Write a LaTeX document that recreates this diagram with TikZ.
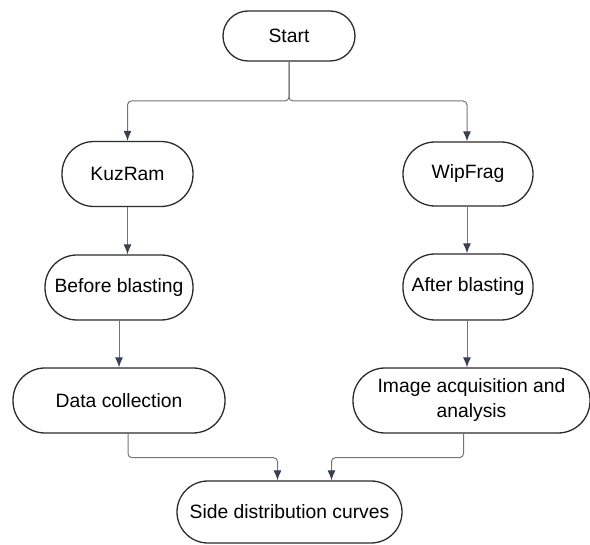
\documentclass[tikz,border=0pt]{standalone}
\usepackage{fontspec}
\setmainfont{Liberation Sans}
\usetikzlibrary{arrows.meta}
\definecolor{boxline}{HTML}{2B2B2B}
\definecolor{linkline}{HTML}{707480}
\definecolor{tipcol}{HTML}{374151}

\begin{document}
\begin{tikzpicture}[x=1pt,y=-1pt,
	term/.style={draw=boxline,line width=1.3pt,fill=white,align=center,
		font=\fontsize{19.3}{25}\selectfont,inner sep=0pt},
	link/.style={draw=linkline,line width=1pt,rounded corners=4pt,
		-{Latex[length=10pt,width=8pt,color=tipcol]}}]
	\useasboundingbox (0,0) rectangle (590,545);

	\node[term,minimum width=132pt,minimum height=50pt,rounded corners=25pt] (start) at (289,36) {Start};
	\node[term,minimum width=131pt,minimum height=65pt,rounded corners=32pt] (kuz) at (127.5,174) {KuzRam};
	\node[term,minimum width=148pt,minimum height=65pt,rounded corners=32pt] (before) at (119,287.5) {Before blasting};
	\node[term,minimum width=212pt,minimum height=65pt,rounded corners=32pt] (data) at (119,400.5) {Data collection};
	\node[term,minimum width=130pt,minimum height=64pt,rounded corners=32pt] (wip) at (468,174) {WipFrag};
	\node[term,minimum width=130pt,minimum height=66pt,rounded corners=32pt] (after) at (468,287) {After blasting};
	\node[term,minimum width=237pt,minimum height=65pt,rounded corners=32pt] (img) at (471.5,400.5) {Image acquisition and\\analysis};
	\node[term,minimum width=225pt,minimum height=62pt,rounded corners=31pt] (side) at (289.5,512) {Side distribution curves};

	\coordinate (split) at (289,101);

	\draw[link] (start.south) -- (split) -| (kuz.north);
	\draw[link] (start.south) -- (split) -| ([xshift=-1pt]wip.north);
	\draw[link] (kuz.south) -- (kuz.south |- before.north);
	\draw[link] (before.south) -- (data.north);
	\draw[link] ([xshift=-1pt]wip.south) -- ([xshift=-1pt]after.north);
	\draw[link] ([xshift=-1pt]after.south) -- ([xshift=-1pt]after.south |- img.north);
	\draw[link] ([xshift=9pt]data.south) -- ++(0,24) -| ([xshift=-12pt]side.north);
	\draw[link] ([xshift=-8pt]img.south) -- ++(0,24) -| ([xshift=42pt]side.north);
\end{tikzpicture}
\end{document}
